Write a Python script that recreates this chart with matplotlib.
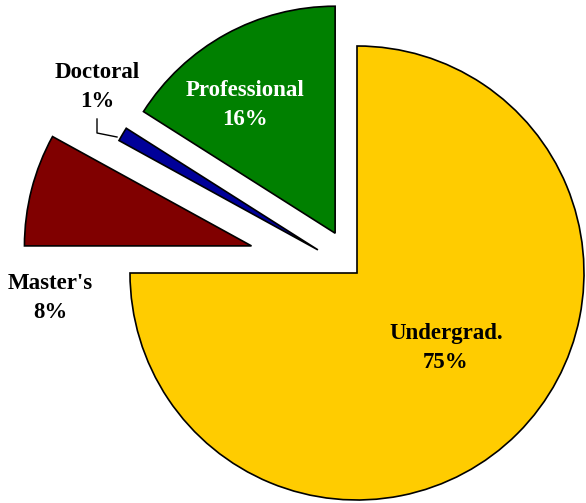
import matplotlib

matplotlib.use("Agg")
import matplotlib.pyplot as plt

labels = ["Undergrad.", "Master's", "Doctoral", "Professional"]
shares = [75, 8, 1, 16]
colors = ["#FFCC00", "#800000", "#000099", "#008000"]
explode = [0.0, 0.48, 0.2, 0.2]

W, H = 586, 503
CX, CY, R = 357, 273, 227  # pie centre and radius in pixels


def px(x, y):
    return (x - CX) / R, (CY - y) / R


fig = plt.figure(figsize=(W / 100, H / 100), dpi=100)
ax = fig.add_axes([0, 0, 1, 1])
ax.pie(
    shares,
    colors=colors,
    explode=explode,
    startangle=90,
    counterclock=False,
    radius=1.0,
    wedgeprops={"edgecolor": "black", "linewidth": 1.2},
)
ax.set_aspect("auto")
x0, y0 = px(0, 0)
x1, y1 = px(W, H)
ax.set_xlim(x0, x1)
ax.set_ylim(y1, y0)
ax.axis("off")

font = {"family": ["Liberation Serif", "DejaVu Serif"], "weight": "bold", "size": 16.5}
text_pos = {
    "Undergrad.": ((446, 348), "black"),
    "Master's": ((50, 298), "black"),
    "Doctoral": ((97, 87), "black"),
    "Professional": ((245, 105), "white"),
}
for name, share in zip(labels, shares):
    (tx, ty), col = text_pos[name]
    ax.text(*px(tx, ty), f"{name}\n{share}%", ha="center", va="center",
            color=col, linespacing=1.5, **font)

# leader line for the doctoral label
pts = [px(97, 119), px(97, 133), px(117, 137)]
ax.plot([p[0] for p in pts], [p[1] for p in pts], color="black", lw=1.0)

fig.savefig("out.png", dpi=100)
